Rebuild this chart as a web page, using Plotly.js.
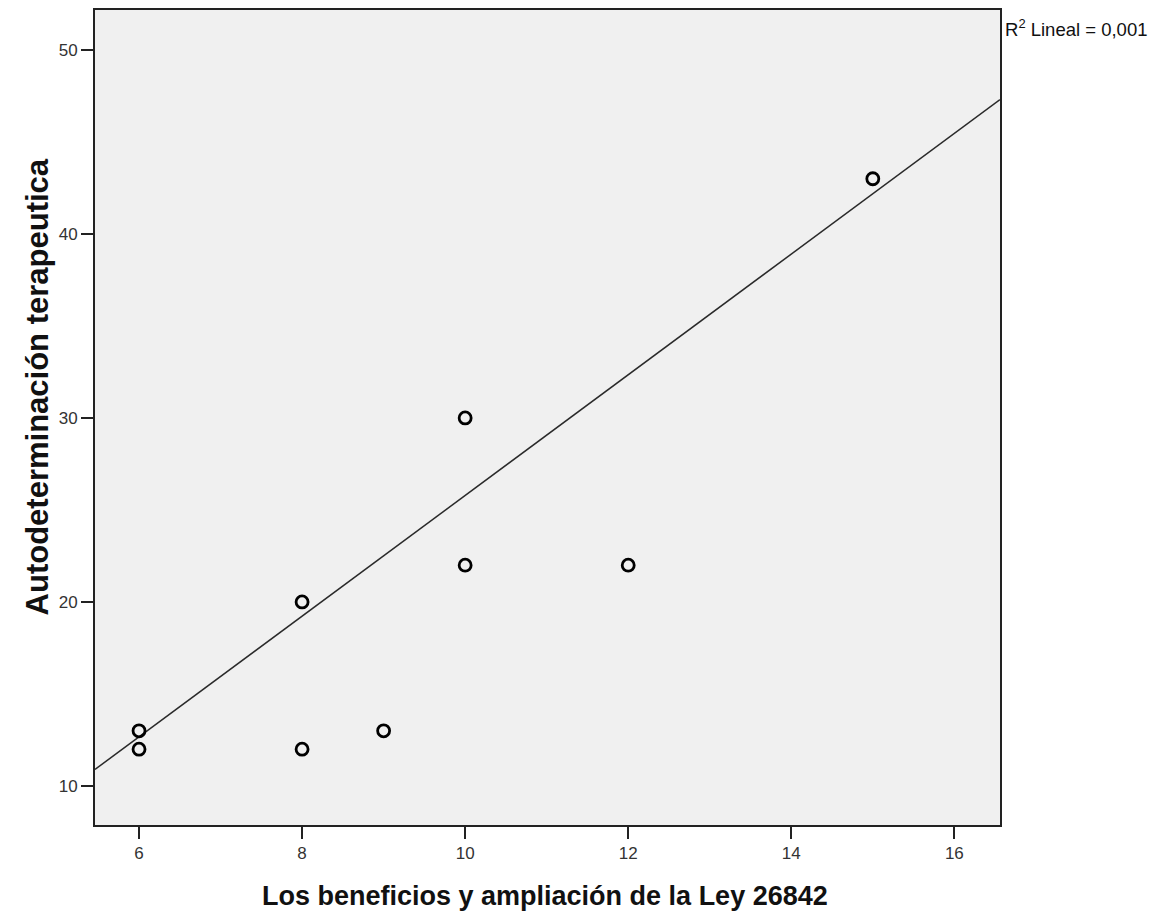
<!DOCTYPE html>
<html>
<head>
<meta charset="utf-8">
<script src="https://cdn.plot.ly/plotly-3.0.1.min.js"></script>
<style>html,body{margin:0;padding:0;background:#fff;}#chart{width:1162px;height:917px;}</style>
</head>
<body>
<div id="chart"></div>
<script>
// Data
const xValues = [6, 6, 8, 8, 9, 10, 10, 12, 15];
const yValues = [13, 12, 20, 12, 13, 30, 22, 22, 43];
// Fit line endpoints (data units) at the axis limits
const fitX = [5.46, 16.56];
const fitY = [10.9, 47.3];
const xTicks = [6, 8, 10, 12, 14, 16];
const yTicks = [10, 20, 30, 40, 50];
const xTitle = "Los beneficios y ampliación de la Ley 26842";
const yTitle = "Autodeterminación terapeutica";
const r2Label = "R<sup>2</sup> Lineal = 0,001";

const traces = [
  {
    x: fitX, y: fitY, mode: "lines", type: "scatter",
    line: {color: "#2a2a2a", width: 1.5}, hoverinfo: "skip", showlegend: false
  },
  {
    x: xValues, y: yValues, mode: "markers", type: "scatter",
    marker: {symbol: "circle-open", size: 12, color: "#000", line: {width: 2.8, color: "#000"}},
    showlegend: false
  }
];

const layout = {
  width: 1162, height: 917,
  margin: {l: 95, r: 162, t: 10, b: 92},
  paper_bgcolor: "#ffffff",
  plot_bgcolor: "#f0f0f0",
  font: {family: "Arial, Liberation Sans, sans-serif", color: "#222"},
  xaxis: {
    range: [5.46, 16.56], tickvals: xTicks, ticktext: xTicks.map(String),
    ticks: "outside", ticklen: 12, tickwidth: 2, tickcolor: "#222",
    showgrid: false, zeroline: false,
    showline: true, linecolor: "#222", linewidth: 2, mirror: true,
    tickfont: {size: 17, color: "#333"}
  },
  yaxis: {
    range: [7.88, 52.17], tickvals: yTicks, ticktext: yTicks.map(String),
    ticks: "outside", ticklen: 12, tickwidth: 2, tickcolor: "#222",
    showgrid: false, zeroline: false,
    showline: true, linecolor: "#222", linewidth: 2, mirror: true,
    tickfont: {size: 17, color: "#333"}
  },
  annotations: [
    {xref: "paper", yref: "paper", x: 0.497, y: -0.087, xanchor: "center", yanchor: "middle",
     text: xTitle, showarrow: false,
     font: {size: 27, family: "Arial, Liberation Sans", color: "#111", weight: "bold"}},
    {xref: "paper", yref: "paper", x: -0.064, y: 0.537, xanchor: "center", yanchor: "middle",
     textangle: -90, text: yTitle, showarrow: false,
     font: {size: 31, family: "Arial, Liberation Sans", color: "#111", weight: "bold"}},
    {xref: "paper", yref: "paper", x: 1.003, y: 0.995, xanchor: "left", yanchor: "top",
     text: r2Label, showarrow: false, font: {size: 18.5, color: "#111"}}
  ]
};

Plotly.newPlot("chart", traces, layout, {displayModeBar: false, staticPlot: true});
</script>
</body>
</html>
